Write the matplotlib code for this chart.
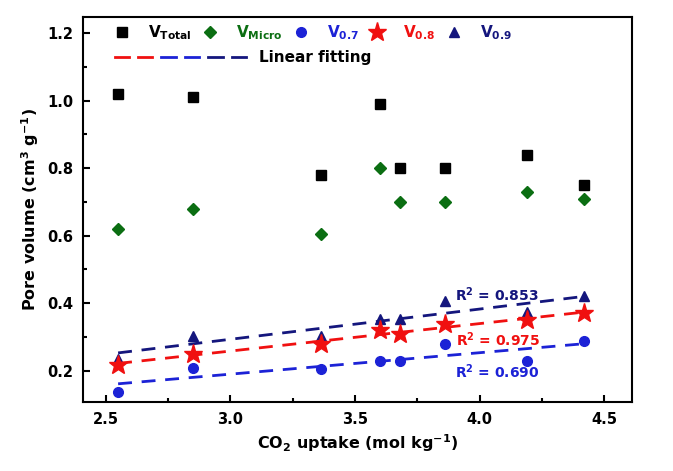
import numpy as np
import matplotlib
matplotlib.use("Agg")
import matplotlib.pyplot as plt
from matplotlib.legend_handler import HandlerTuple
from matplotlib.lines import Line2D

plt.rcParams['font.family'] = 'DejaVu Sans'
plt.rcParams['font.weight'] = 'bold'
plt.rcParams['mathtext.default'] = 'bf'

# CO2 uptake (mol/kg)
co2 = [2.55, 2.85, 3.365, 3.60, 3.68, 3.86, 4.19, 4.42]
# pore volumes (cm3/g)
v_total = [1.02, 1.01, 0.78, 0.99, 0.80, 0.80, 0.84, 0.75]
v_micro = [0.62, 0.68, 0.605, 0.80, 0.70, 0.70, 0.73, 0.71]
v_07 = [0.137, 0.208, 0.206, 0.228, 0.228, 0.279, 0.228, 0.289]
v_08 = [0.218, 0.248, 0.279, 0.319, 0.309, 0.339, 0.349, 0.370]
v_09 = [0.235, 0.304, 0.304, 0.352, 0.352, 0.405, 0.373, 0.422]
r2_labels = ['0.853', '0.975', '0.690']

navy = '#14167d'
blue = '#1c22d6'
red = '#f01010'
green = '#0b6e12'

fig = plt.figure(figsize=(6.73, 4.71), dpi=100)
ax = fig.add_axes([0.1229, 0.1465, 0.8161, 0.8168])

x = np.array(co2)
xf = np.linspace(x.min(), x.max(), 50)
dash = (0, (5, 3.5))
for ys, c in [(v_08, red), (v_07, blue), (v_09, navy)]:
    k, b = np.polyfit(x, ys, 1)
    ax.plot(xf, k * xf + b, color=c, lw=2, linestyle=dash, zorder=3)

h1, = ax.plot(co2, v_total, 's', color='black', ms=6.5, ls='none', zorder=4)
h2, = ax.plot(co2, v_micro, 'D', color=green, ms=6, ls='none', zorder=4)
h3, = ax.plot(co2, v_07, 'o', color=blue, ms=7, ls='none', zorder=4)
h4, = ax.plot(co2, v_08, '*', color=red, ms=14, ls='none', zorder=4)
h5, = ax.plot(co2, v_09, '^', color=navy, ms=7.5, ls='none', zorder=2)

ax.text(3.90, 0.425, 'R$^{2}$ = ' + r2_labels[0], color=navy, fontsize=10, va='center', fontweight='bold')
ax.text(3.905, 0.291, 'R$^{2}$ = ' + r2_labels[1], color=red, fontsize=10, va='center', fontweight='bold')
ax.text(3.90, 0.198, 'R$^{2}$ = ' + r2_labels[2], color=blue, fontsize=10, va='center', fontweight='bold')

ax.set_xlim(2.408, 4.611)
ax.set_ylim(0.107, 1.247)
ax.set_xticks([2.5, 3.0, 3.5, 4.0, 4.5])
ax.set_xticks(np.arange(2.75, 4.5, 0.5), minor=True)
ax.set_yticks([0.2, 0.4, 0.6, 0.8, 1.0, 1.2])
ax.set_yticks([0.3, 0.5, 0.7, 0.9, 1.1], minor=True)
ax.tick_params(which='both', direction='in', width=1.5, labelsize=10.5, pad=7)
ax.tick_params(which='major', length=5)
ax.tick_params(which='minor', length=3)
for lab in ax.get_xticklabels() + ax.get_yticklabels():
    lab.set_fontweight('bold')
for sp in ax.spines.values():
    sp.set_linewidth(1.5)

ax.set_xlabel('CO$_{2}$ uptake (mol kg$^{-1}$)', fontsize=11.5, fontweight='bold', labelpad=4)
ax.set_ylabel('Pore volume (cm$^{3}$ g$^{-1}$)', fontsize=11.5, fontweight='bold', labelpad=4)

labels = ['V$_{Total}$', 'V$_{Micro}$', 'V$_{0.7}$', 'V$_{0.8}$', 'V$_{0.9}$']
lcolors = ['black', green, blue, red, navy]
leg1 = ax.legend([h1, h2, h3, h4, h5], labels, ncol=5, loc='upper left',
                 bbox_to_anchor=(0.052, 0.985), frameon=False, fontsize=11,
                 handlelength=1.4, handletextpad=1.0, columnspacing=0.5,
                 borderpad=0, borderaxespad=0)
for t, c in zip(leg1.get_texts(), lcolors):
    t.set_color(c)
ax.add_artist(leg1)

# legend handle: two short dashes of each fit colour
leg_lines = [Line2D([], [], color=c, lw=2) for c in [red, red, blue, blue, navy, navy]]
ax.legend([tuple(leg_lines)], ['Linear fitting'], loc='upper left',
          bbox_to_anchor=(0.058, 0.915), frameon=False, fontsize=11,
          handlelength=8.6, handletextpad=0.85, borderpad=0, borderaxespad=0,
          handler_map={tuple: HandlerTuple(ndivide=None, pad=0.6)})

fig.savefig('out.png', dpi=100)
